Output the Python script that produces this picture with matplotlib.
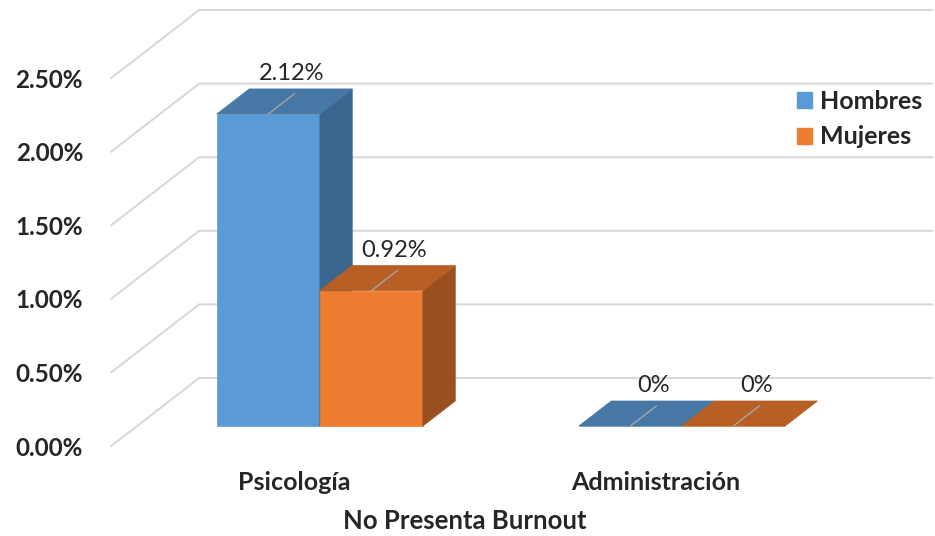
import matplotlib
matplotlib.use("Agg")
import matplotlib.pyplot as plt
from matplotlib.patches import Polygon, Patch

categories = ["Psicología", "Administración"]
series_names = ["Hombres", "Mujeres"]
hombres = [2.12, 0.0]
mujeres = [0.92, 0.0]
hombres_labels = ["2.12%", "0%"]
mujeres_labels = ["0.92%", "0%"]
y_ticks = [0.0, 0.5, 1.0, 1.5, 2.0, 2.5]
y_tick_labels = ["0.00%", "0.50%", "1.00%", "1.50%", "2.00%", "2.50%"]
x_title = "No Presenta Burnout"

FRONT = ["#5B9BD5", "#ED7D31"]
TOP = ["#4777A5", "#B75F24"]
SIDE = ["#3C6690", "#9A4F1F"]
GRID = "#D9D9D9"
TXT = "#262626"
FONT = "Lato"

# one unit of depth shifts a point by (DX, DY) in data units
DX = 88 / 362
DY = 68 / 147.2
BAR_W = 103 / 362
D0, D1 = 0.294, 0.662
FLOOR_X0, FLOOR_X1 = -0.505, 1.52


def proj(u, v, d):
    return (u + d * DX, v + d * DY)


fig = plt.figure(figsize=(9.35, 5.36), dpi=100)
ax = fig.add_axes([90 / 935, 0, 1 - 90 / 935, 1])
ax.set_xlim((90 - 294) / 362, (935 - 294) / 362)
ax.set_ylim((446 - 536) / 147.2, 446 / 147.2)
for sp in ax.spines.values():
    sp.set_visible(False)
ax.set_xticks([])
ax.set_yticks(y_ticks)
ax.set_yticklabels(y_tick_labels, fontsize=17.5, fontweight="bold",
                   family=FONT, color=TXT)
ax.tick_params(axis="y", length=0, pad=5)

# back wall gridlines and side diagonals
for v in y_ticks:
    x0, y0 = proj(FLOOR_X0, v, 0)
    x1, y1 = proj(FLOOR_X0, v, 1)
    x2, y2 = proj(FLOOR_X1, v, 1)
    ax.plot([x0, x1, x2], [y0, y1, y2], color=GRID, lw=1.5, zorder=1,
            solid_joinstyle="miter", clip_on=False)


def draw_bar(left, h, s):
    right = left + BAR_W
    front = [proj(left, 0, D0), proj(right, 0, D0), proj(right, h, D0), proj(left, h, D0)]
    side = [proj(right, 0, D0), proj(right, h, D0), proj(right, h, D1), proj(right, 0, D1)]
    top = [proj(left, h, D0), proj(right, h, D0), proj(right, h, D1), proj(left, h, D1)]
    for pts, col in ((front, FRONT[s]), (side, SIDE[s]), (top, TOP[s])):
        ax.add_patch(Polygon(pts, closed=True, facecolor=col, edgecolor=col,
                             lw=0.5, zorder=3))


def draw_label(left, h, text):
    xc = left + BAR_W / 2
    p0 = proj(xc, h, D0)
    p1 = proj(xc, h, D0 + 0.8 * (D1 - D0))
    ax.plot([p0[0], p1[0]], [p0[1], p1[1]], color="#A6A6A6", lw=1, zorder=4)
    ax.annotate(text, p1, xytext=(-2, 7), textcoords="offset points",
                ha="center", va="bottom", fontsize=17, family=FONT,
                color=TXT, zorder=5)


for c, cat in enumerate(categories):
    for s, (vals, labels) in enumerate(((hombres, hombres_labels), (mujeres, mujeres_labels))):
        left = c - BAR_W + s * BAR_W
        draw_bar(left, vals[c], s)
        draw_label(left, vals[c], labels[c])
    ax.annotate(cat, (c, 0), xytext=(0, -26.5), textcoords="offset points",
                ha="center", va="center", fontsize=18, fontweight="bold",
                family=FONT, color=TXT)

fig.text(465 / 935, 1 - 521 / 536, x_title, ha="center", va="center",
         fontsize=18.5, fontweight="bold", family=FONT, color=TXT)

handles = [Patch(facecolor=FRONT[i], edgecolor=FRONT[i]) for i in range(2)]
ax.legend(handles, series_names, loc="upper left",
          bbox_to_anchor=(797 / 935, 1 - 90 / 536), bbox_transform=fig.transFigure,
          frameon=False, borderpad=0, borderaxespad=0, handlelength=0.6,
          handleheight=0.6, handletextpad=0.3, labelspacing=0.5,
          prop={"family": FONT, "size": 18, "weight": "bold"})
for t in ax.get_legend().get_texts():
    t.set_color(TXT)

fig.savefig("out.png", dpi=100)
